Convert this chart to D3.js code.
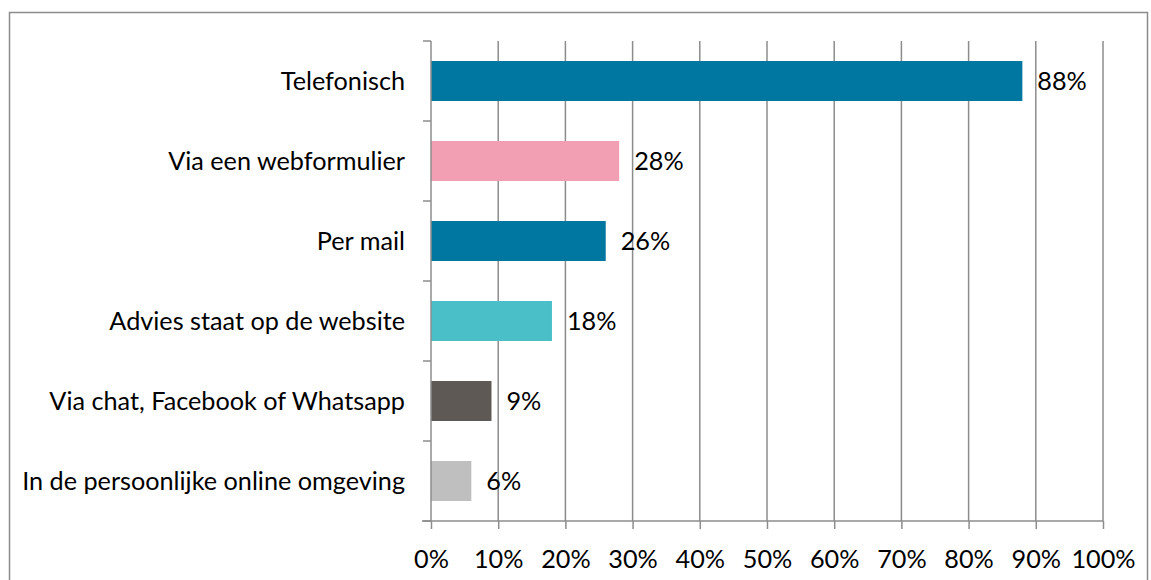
<!DOCTYPE html>
<html>
<head>
<meta charset="utf-8">
<script src="https://cdn.jsdelivr.net/npm/d3@7"></script>
<style>
  body { margin: 0; background: #fff; }
  text { font-family: Lato, "Open Sans", sans-serif; fill: #000; }
</style>
</head>
<body>
<svg id="chart"></svg>
<script>
// chart data
const categories = [
	"Telefonisch",
	"Via een webformulier",
	"Per mail",
	"Advies staat op de website",
	"Via chat, Facebook of Whatsapp",
	"In de persoonlijke online omgeving"
];
const values = [88, 28, 26, 18, 9, 6];
const barColors = ["#0077a0", "#f29fb3", "#0077a0", "#4bbfc8", "#5f5955", "#bfbfbf"];
const xTicks = [0, 10, 20, 30, 40, 50, 60, 70, 80, 90, 100];

const W = 1151, H = 580;
const margin = { left: 431, right: 48, top: 41, bottom: 59 };
const width = W - margin.left - margin.right;
const height = H - margin.top - margin.bottom;

const svg = d3.select("#chart")
	.attr("width", W)
	.attr("height", H);

// pick a font size so the longest label is about as wide as in the original (~383px)
const probe = svg.append("text").style("font-size", "20px").text(categories[5]);
const fontSize = 20 * 383 / probe.node().getComputedTextLength();
probe.remove();

// outer frame
svg.append("rect")
	.attr("x", 9.5).attr("y", 12.5)
	.attr("width", 1138).attr("height", 600)
	.attr("fill", "none")
	.attr("stroke", "#8c8c8c")
	.attr("stroke-width", 1.5);

const g = svg.append("g")
	.attr("transform", `translate(${margin.left}, ${margin.top})`);

const x = d3.scaleLinear().domain([0, 100]).range([0, width]);
const y = d3.scaleBand().domain(categories).range([0, height])
	.paddingInner(0.5).paddingOuter(0.25);

// gridlines
g.selectAll(".grid")
	.data(xTicks.slice(1))
	.enter()
	.append("line")
	.attr("x1", d => x(d)).attr("x2", d => x(d))
	.attr("y1", 0).attr("y2", height)
	.attr("stroke", "#8c8c8c")
	.attr("stroke-width", 1.5);

// bars
g.selectAll(".bar")
	.data(categories)
	.enter()
	.append("rect")
	.attr("x", x(0))
	.attr("y", d => y(d))
	.attr("width", (d, i) => x(values[i]) - x(0))
	.attr("height", y.bandwidth())
	.attr("fill", (d, i) => barColors[i]);

// value labels
g.selectAll(".val")
	.data(categories)
	.enter()
	.append("text")
	.attr("x", (d, i) => x(values[i]) + 15)
	.attr("y", d => y(d) + y.bandwidth() / 2)
	.attr("dy", "0.35em")
	.style("font-size", fontSize + "px")
	.text((d, i) => values[i] + "%");

// X axis
const xAxis = g.append("g")
	.attr("transform", `translate(0, ${height})`)
	.call(d3.axisBottom(x).tickValues(xTicks).tickFormat(d => d + "%").tickSizeInner(8).tickSizeOuter(0).tickPadding(21));
xAxis.selectAll("line, path").attr("stroke", "#8c8c8c").attr("stroke-width", 1.5);
xAxis.selectAll("text").style("font-size", fontSize + "px").attr("font-family", null);
xAxis.select(".domain").attr("d", `M-9,0H${width}`);

// Y axis: ticks sit at band boundaries
const yAxis = g.append("g");
yAxis.append("line")
	.attr("x1", 0).attr("x2", 0).attr("y1", 0).attr("y2", height)
	.attr("stroke", "#8c8c8c").attr("stroke-width", 1.5);
yAxis.selectAll(".ytick")
	.data(d3.range(categories.length + 1))
	.enter()
	.append("line")
	.attr("x1", -8).attr("x2", 0)
	.attr("y1", i => i * y.step())
	.attr("y2", i => i * y.step())
	.attr("stroke", "#8c8c8c").attr("stroke-width", 1.5);

// category labels
g.selectAll(".cat")
	.data(categories)
	.enter()
	.append("text")
	.attr("x", -26)
	.attr("y", d => y(d) + y.bandwidth() / 2)
	.attr("dy", "0.35em")
	.attr("text-anchor", "end")
	.style("font-size", fontSize + "px")
	.text(d => d);
</script>
</body>
</html>
